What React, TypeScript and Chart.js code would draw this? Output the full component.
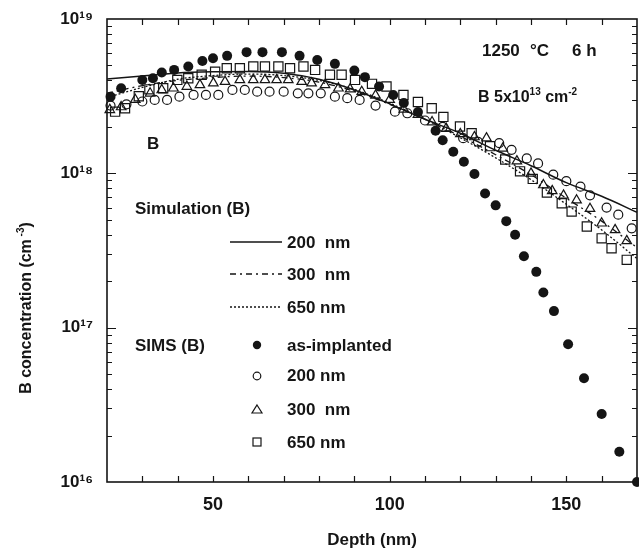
import React, { useEffect, useRef } from "react";
import { Chart, registerables } from "chart.js";

Chart.register(...registerables);

const FONT = '"Liberation Sans", Arial, Helvetica, sans-serif';
const INK = "#151515";

// ---- SIMS: as-implanted (filled circles) ----
const DEPTH_IMPLANT = [21, 24, 30, 33, 35.5, 39, 43, 47, 50, 54, 59.5, 64, 69.5, 74.5, 79.5, 84.5, 90, 93, 97, 101, 104, 108, 113, 115, 118, 121, 124, 127, 130, 133, 135.5, 138, 141.5, 143.5, 146.5, 150.5, 155, 160, 165, 170];
const CONC_IMPLANT = [3.14e18, 3.56e18, 4.03e18, 4.13e18, 4.5e18, 4.68e18, 4.92e18, 5.35e18, 5.57e18, 5.77e18, 6.1e18, 6.1e18, 6.1e18, 5.77e18, 5.43e18, 5.12e18, 4.63e18, 4.2e18, 3.65e18, 3.22e18, 2.86e18, 2.5e18, 1.89e18, 1.64e18, 1.38e18, 1.19e18, 9.9e17, 7.4e17, 6.2e17, 4.9e17, 4.0e17, 2.9e17, 2.3e17, 1.69e17, 1.28e17, 7.8e16, 4.7e16, 2.76e16, 1.57e16, 1.0e16];

// ---- SIMS: 200 nm (open circles) ----
const DEPTH_SIMS200 = [21, 25.5, 30, 33.5, 37, 40.5, 44.5, 48, 51.5, 55.5, 59, 62.5, 66, 70, 74, 77, 80.5, 84.5, 88, 91.5, 96, 101.5, 105, 110, 115, 120.8, 125, 131, 134.5, 138.8, 142, 146.3, 150, 154, 156.7, 161.4, 164.7, 168.5];
const CONC_SIMS200 = [2.75e18, 2.8e18, 2.92e18, 2.99e18, 2.99e18, 3.14e18, 3.22e18, 3.22e18, 3.22e18, 3.47e18, 3.47e18, 3.38e18, 3.38e18, 3.38e18, 3.3e18, 3.3e18, 3.3e18, 3.14e18, 3.07e18, 2.99e18, 2.75e18, 2.51e18, 2.45e18, 2.2e18, 2.0e18, 1.69e18, 1.6e18, 1.57e18, 1.42e18, 1.25e18, 1.16e18, 9.8e17, 8.9e17, 8.2e17, 7.2e17, 6.0e17, 5.4e17, 4.4e17];

// ---- SIMS: 300 nm (open triangles) ----
const DEPTH_SIMS300 = [20.8, 24, 28, 32.2, 35.5, 38.8, 42.6, 46.3, 50.1, 53.4, 57.6, 61.4, 64.7, 68, 71.3, 75.1, 77.9, 81.7, 85.5, 88.8, 92.1, 96, 100, 104, 108, 112, 116, 120, 124, 127.4, 132, 136, 140, 143.5, 146, 149.2, 152.9, 156.7, 160, 163.8, 167.1];
const CONC_SIMS300 = [2.58e18, 2.69e18, 3.0e18, 3.3e18, 3.47e18, 3.56e18, 3.65e18, 3.74e18, 3.84e18, 3.93e18, 4.03e18, 4.03e18, 4.03e18, 4.03e18, 4.03e18, 3.93e18, 3.84e18, 3.74e18, 3.56e18, 3.51e18, 3.38e18, 3.2e18, 3.0e18, 2.6e18, 2.4e18, 2.15e18, 1.95e18, 1.8e18, 1.72e18, 1.69e18, 1.45e18, 1.2e18, 1.0e18, 8.4e17, 7.7e17, 7.2e17, 6.7e17, 5.9e17, 4.75e17, 4.3e17, 3.65e17];

// ---- SIMS: 650 nm (open squares) ----
const DEPTH_SIMS650 = [22.3, 25.1, 29, 32, 35.9, 39.9, 43, 46.8, 50.6, 53.9, 57.6, 61.4, 64.7, 68.5, 71.8, 75.6, 78.9, 83.1, 86.4, 90.2, 95, 99.1, 103.9, 108, 111.9, 115.2, 119.9, 123.2, 128.4, 132.7, 136.9, 140.5, 144.5, 148.7, 151.5, 155.8, 160, 162.8, 167.1];
const CONC_SIMS650 = [2.51e18, 2.64e18, 3.16e18, 3.5e18, 3.56e18, 4.03e18, 4.13e18, 4.35e18, 4.56e18, 4.8e18, 4.8e18, 4.92e18, 4.92e18, 4.92e18, 4.8e18, 4.92e18, 4.68e18, 4.35e18, 4.35e18, 4.03e18, 3.8e18, 3.65e18, 3.22e18, 2.9e18, 2.64e18, 2.32e18, 2.01e18, 1.82e18, 1.5e18, 1.23e18, 1.03e18, 9.2e17, 7.5e17, 6.4e17, 5.65e17, 4.52e17, 3.79e17, 3.27e17, 2.75e17];

// ---- Simulation curves ----
const DEPTH_SIM = [20, 30, 40, 50, 60, 70, 80, 90, 100, 110, 120, 130, 140, 150, 160, 170];
const CONC_SIM200 = [4.09e18, 4.27e18, 4.47e18, 4.55e18, 4.57e18, 4.45e18, 4.07e18, 3.47e18, 2.82e18, 2.24e18, 1.82e18, 1.41e18, 1.12e18, 8.7e17, 7.1e17, 5.6e17];
const CONC_SIM300 = [3.3e18, 3.7e18, 4.0e18, 4.17e18, 4.27e18, 4.17e18, 3.9e18, 3.4e18, 2.8e18, 2.24e18, 1.74e18, 1.32e18, 9.8e17, 6.9e17, 4.9e17, 3.3e17];
const CONC_SIM650 = [3.1e18, 3.6e18, 4.07e18, 4.3e18, 4.4e18, 4.3e18, 4.0e18, 3.5e18, 2.85e18, 2.24e18, 1.7e18, 1.26e18, 9.1e17, 6.3e17, 4.3e17, 2.8e17];

// ---- Axes ----
const X_MIN = 20;
const X_MAX = 170;
const X_TICK_LABELS = [50, 100, 150];
const Y_TICKS = [1e16, 1e17, 1e18, 1e19];
const Y_TICK_LABELS = ["10¹⁶", "10¹⁷", "10¹⁸", "10¹⁹"];

const pts = (xs: number[], ys: number[]) => xs.map((x, i) => ({ x, y: ys[i] }));

const bold = (s: number) => `bold ${s}px ${FONT}`;

type Part = [string, boolean];
function drawParts(ctx: CanvasRenderingContext2D, parts: Part[], x: number, y: number, size: number) {
  let cx = x;
  for (const [t, sup] of parts) {
    ctx.font = bold(sup ? Math.round(size * 0.62) : size);
    ctx.fillText(t, cx, sup ? y - size * 0.36 : y);
    cx += ctx.measureText(t).width;
  }
  return cx;
}

const framePlugin = {
  id: "frameTicks",
  afterDraw(chart: any) {
    const { ctx, chartArea: a, scales } = chart;
    const xs = scales.x;
    const ys = scales.y;
    ctx.save();
    ctx.strokeStyle = INK;
    ctx.lineWidth = 1.6;
    ctx.strokeRect(a.left, a.top, a.right - a.left, a.bottom - a.top);
    ctx.lineWidth = 1.2;
    ctx.beginPath();
    for (let d = X_MIN + 10; d < X_MAX; d += 10) {
      const px = Math.round(xs.getPixelForValue(d)) + 0.5;
      ctx.moveTo(px, a.bottom);
      ctx.lineTo(px, a.bottom - 6);
      ctx.moveTo(px, a.top);
      ctx.lineTo(px, a.top + 6);
    }
    for (let e = 16; e < 19; e++) {
      for (let m = 1; m <= 9; m++) {
        if (m === 1 && e === 16) continue;
        const py = Math.round(ys.getPixelForValue(m * Math.pow(10, e))) + 0.5;
        const len = m === 1 ? 9 : 5;
        ctx.moveTo(a.left, py);
        ctx.lineTo(a.left + len, py);
        ctx.moveTo(a.right, py);
        ctx.lineTo(a.right - len, py);
      }
    }
    ctx.stroke();
    ctx.restore();
  },
};

const annotationPlugin = {
  id: "annotations",
  afterDraw(chart: any) {
    const ctx: CanvasRenderingContext2D = chart.ctx;
    ctx.save();
    ctx.fillStyle = INK;
    ctx.strokeStyle = INK;
    ctx.textBaseline = "middle";
    ctx.textAlign = "left";

    // y-axis title (rotated)
    ctx.save();
    ctx.translate(27, 308);
    ctx.rotate(-Math.PI / 2);
    const parts: Part[] = [["B concentration (cm", false], [" -3", true], [")", false]];
    let w = 0;
    for (const [t, sup] of parts) {
      ctx.font = bold(sup ? 10 : 16);
      w += ctx.measureText(t).width;
    }
    drawParts(ctx, parts, -w / 2, 0, 16);
    ctx.restore();

    // upper-right conditions
    ctx.font = bold(17);
    ctx.fillText("1250", 482, 51);
    ctx.fillText("°C", 530, 51);
    ctx.fillText("6 h", 572, 51);
    drawParts(ctx, [["B 5x10", false], ["13", true], [" cm", false], ["-2", true]], 478, 98, 16);

    // "B" label
    ctx.font = bold(17);
    ctx.fillText("B", 147, 144);

    // legend: simulation
    ctx.font = bold(17);
    ctx.fillText("Simulation (B)", 135, 209);
    const lx0 = 230, lx1 = 282, tx = 287;
    const simRows: [number, string, number[]][] = [
      [242, "200  nm", []],
      [274, "300  nm", [6, 4, 2, 4]],
      [307, "650 nm", [2, 2]],
    ];
    for (const [yy, label, dash] of simRows) {
      ctx.save();
      ctx.lineWidth = 1.4;
      ctx.setLineDash(dash);
      ctx.beginPath();
      ctx.moveTo(lx0, yy);
      ctx.lineTo(lx1, yy);
      ctx.stroke();
      ctx.restore();
      ctx.font = bold(17);
      ctx.fillText(label, tx, yy + 1);
    }

    // legend: SIMS
    ctx.font = bold(17);
    ctx.fillText("SIMS (B)", 135, 346);
    const mx = 257;
    ctx.lineWidth = 1.2;
    ctx.beginPath();
    ctx.arc(mx, 345, 4.2, 0, Math.PI * 2);
    ctx.fill();
    ctx.fillText("as-implanted", tx, 346);
    ctx.beginPath();
    ctx.arc(mx, 376, 3.8, 0, Math.PI * 2);
    ctx.stroke();
    ctx.fillText("200 nm", tx, 376);
    ctx.beginPath();
    ctx.moveTo(mx, 405);
    ctx.lineTo(mx + 5, 413);
    ctx.lineTo(mx - 5, 413);
    ctx.closePath();
    ctx.stroke();
    ctx.fillText("300  nm", tx, 410);
    ctx.strokeRect(mx - 4, 438, 8, 8);
    ctx.fillText("650 nm", tx, 443);

    ctx.restore();
  },
};

export default function App() {
  const ref = useRef<HTMLCanvasElement | null>(null);

  useEffect(() => {
    if (!ref.current) return;
    const chart = new Chart(ref.current, {
      type: "scatter",
      data: {
        datasets: [
          {
            label: "Simulation 200 nm",
            data: pts(DEPTH_SIM, CONC_SIM200),
            showLine: true,
            borderColor: INK,
            borderWidth: 1.5,
            pointRadius: 0,
            cubicInterpolationMode: "monotone",
          },
          {
            label: "Simulation 300 nm",
            data: pts(DEPTH_SIM, CONC_SIM300),
            showLine: true,
            borderColor: INK,
            borderWidth: 1.3,
            borderDash: [6, 4, 2, 4],
            pointRadius: 0,
            cubicInterpolationMode: "monotone",
          },
          {
            label: "Simulation 650 nm",
            data: pts(DEPTH_SIM, CONC_SIM650),
            showLine: true,
            borderColor: INK,
            borderWidth: 1.3,
            borderDash: [2, 2],
            pointRadius: 0,
            cubicInterpolationMode: "monotone",
          },
          {
            label: "SIMS 200 nm",
            data: pts(DEPTH_SIMS200, CONC_SIMS200),
            pointStyle: "circle",
            pointRadius: 4.5,
            borderColor: INK,
            borderWidth: 1.2,
            backgroundColor: "rgba(255,255,255,0)",
          },
          {
            label: "SIMS 300 nm",
            data: pts(DEPTH_SIMS300, CONC_SIMS300),
            pointStyle: "triangle",
            pointRadius: 5.5,
            borderColor: INK,
            borderWidth: 1.2,
            backgroundColor: "rgba(255,255,255,0)",
          },
          {
            label: "SIMS 650 nm",
            data: pts(DEPTH_SIMS650, CONC_SIMS650),
            pointStyle: "rect",
            pointRadius: 6.5,
            borderColor: INK,
            borderWidth: 1.2,
            backgroundColor: "rgba(255,255,255,0)",
          },
          {
            label: "as-implanted",
            data: pts(DEPTH_IMPLANT, CONC_IMPLANT),
            pointStyle: "circle",
            pointRadius: 5,
            borderColor: INK,
            borderWidth: 0,
            backgroundColor: INK,
          },
        ],
      },
      options: {
        animation: false,
        responsive: true,
        maintainAspectRatio: false,
        clip: false,
        layout: { autoPadding: false, padding: { left: 0, top: 19, right: 2, bottom: 0 } },
        plugins: {
          legend: { display: false },
          tooltip: { enabled: false },
        },
        scales: {
          x: {
            type: "linear",
            min: X_MIN,
            max: X_MAX,
            grid: { display: false, drawTicks: false },
            border: { display: false },
            ticks: {
              stepSize: 10,
              autoSkip: false,
              maxRotation: 0,
              padding: 12,
              color: INK,
              font: { family: FONT, size: 18, weight: "bold" },
              callback: (v: any) => (X_TICK_LABELS.includes(Number(v)) ? String(v) : ""),
            },
            title: {
              display: true,
              text: "Depth (nm)",
              color: INK,
              font: { family: FONT, size: 17, weight: "bold" },
              padding: { top: 0, bottom: 4 },
            },
            afterFit: (s: any) => {
              s.height = 73;
              s.paddingLeft = 0;
              s.paddingRight = 0;
            },
          },
          y: {
            type: "logarithmic",
            min: 1e16,
            max: 1e19,
            grid: { display: false, drawTicks: false },
            border: { display: false },
            afterBuildTicks: (s: any) => {
              s.ticks = Y_TICKS.map((v) => ({ value: v }));
            },
            ticks: {
              padding: 14,
              color: INK,
              font: { family: FONT, size: 17, weight: "bold" },
              callback: (v: any) => {
                const i = Y_TICKS.indexOf(Number(v));
                return i >= 0 ? Y_TICK_LABELS[i] : "";
              },
            },
            afterFit: (s: any) => {
              s.width = 107;
              s.paddingTop = 0;
              s.paddingBottom = 0;
            },
          },
        },
      },
      plugins: [framePlugin, annotationPlugin],
    });
    return () => chart.destroy();
  }, []);

  return (
    <div style={{ position: "absolute", left: 0, top: 0, width: 639, height: 555, background: "#fff" }}>
      <canvas ref={ref} />
    </div>
  );
}
